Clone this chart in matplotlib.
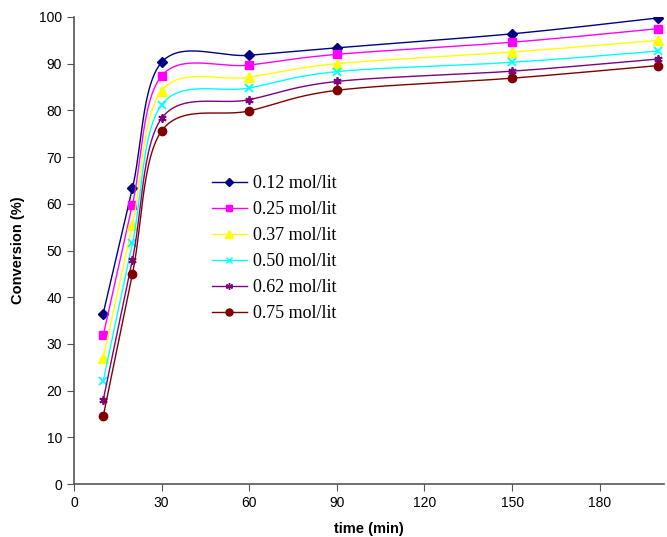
import matplotlib
matplotlib.use("Agg")
import matplotlib.pyplot as plt
import numpy as np

time = [10, 20, 30, 60, 90, 150, 200]
labels = ["0.12 mol/lit", "0.25 mol/lit", "0.37 mol/lit",
          "0.50 mol/lit", "0.62 mol/lit", "0.75 mol/lit"]
c012 = [36.5, 63.3, 90.3, 91.8, 93.4, 96.4, 99.8]
c025 = [31.8, 59.8, 87.4, 89.7, 92.0, 94.6, 97.5]
c037 = [27.0, 55.5, 84.2, 87.1, 90.0, 92.5, 95.0]
c050 = [22.0, 51.5, 81.2, 84.8, 88.3, 90.3, 92.7]
c062 = [18.0, 48.0, 78.3, 82.3, 86.2, 88.4, 91.0]
c075 = [14.5, 44.9, 75.6, 79.9, 84.3, 86.9, 89.6]
series = [c012, c025, c037, c050, c062, c075]

colors = ["#000080", "#FF00FF", "#FFFF00", "#00FFFF", "#800080", "#800000"]
markers = ["D", "s", "^", "x", (6, 2, 0), "o"]
msizes = [5, 6, 7, 6, 6, 6]


def smooth(x, y, n=30):
    """Excel-like smoothed line (Catmull-Rom as cubic Bezier)"""
    p = np.column_stack([x, y]).astype(float)
    pts = []
    for i in range(len(p) - 1):
        p0 = p[i - 1] if i > 0 else p[i]
        p1 = p[i]
        p2 = p[i + 1]
        p3 = p[i + 2] if i + 2 < len(p) else p[i + 1]
        b1 = p1 + (p2 - p0) / 6
        b2 = p2 - (p3 - p1) / 6
        t = np.linspace(0, 1, n)[:, None]
        seg = ((1 - t) ** 3 * p1 + 3 * (1 - t) ** 2 * t * b1
               + 3 * (1 - t) * t ** 2 * b2 + t ** 3 * p2)
        pts.append(seg)
    pts = np.vstack(pts)
    return pts[:, 0], pts[:, 1]


fig = plt.figure(figsize=(6.67, 5.37), dpi=100)
ax = fig.add_axes([74 / 667, 1 - 484 / 537, 590 / 667, 467 / 537])

for y, col, m, ms, lab in zip(series, colors, markers, msizes, labels):
    sx, sy = smooth(time, y)
    ax.plot(sx, sy, color=col, lw=1.0)
    ax.plot(time, y, linestyle="none", marker=m, color=col, ms=ms,
            mew=1.3 if m in ("x", (6, 2, 0)) else 1)
    ax.plot([], [], color=col, lw=1.0, marker=m, ms=ms - 1, label=lab)

ax.set_xlim(0, 202)
ax.set_ylim(0, 100)
ax.set_xticks(range(0, 181, 30))
ax.set_yticks(range(0, 101, 10))
for s in ["top", "right"]:
    ax.spines[s].set_visible(False)
for s in ["left", "bottom"]:
    ax.spines[s].set_color("#555555")
    ax.spines[s].set_linewidth(1.2)
ax.tick_params(direction="out", length=5, color="#555555",
               labelsize=10, labelcolor="black")
for t in ax.get_xticklabels() + ax.get_yticklabels():
    t.set_family("Liberation Sans")

ax.set_xlabel("time (min)", fontsize=10.5, fontweight="bold",
              family="Liberation Sans", labelpad=9)
ax.set_ylabel("Conversion (%)", fontsize=10.5, fontweight="bold",
              family="Liberation Sans", labelpad=10)

ax.legend(loc="upper left", bbox_to_anchor=(196 / 667, 1 - 159 / 537),
          bbox_transform=fig.transFigure, frameon=False,
          prop={"family": "Liberation Serif", "size": 13},
          handlelength=1.9, handletextpad=0.35, labelspacing=0.5)

fig.savefig("out.png", dpi=100)
